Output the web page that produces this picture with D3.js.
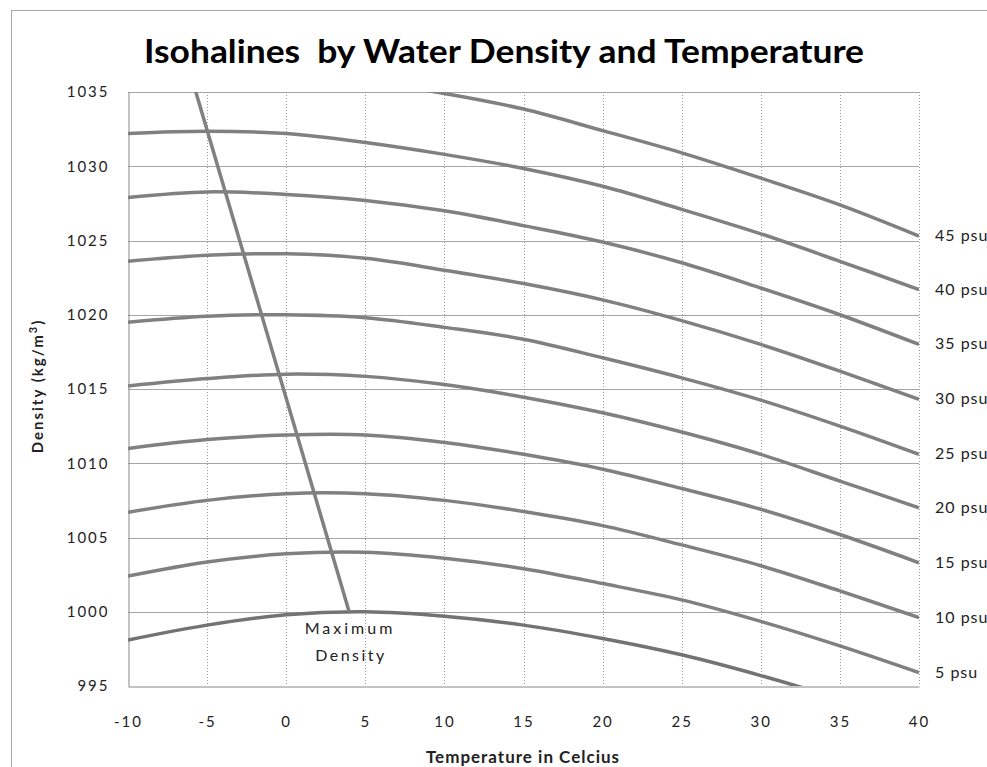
<!DOCTYPE html>
<html>
<head>
<meta charset="utf-8">
<script src="https://cdnjs.cloudflare.com/ajax/libs/d3/7.8.5/d3.min.js"></script>
<style>
  body { margin: 0; background: #fff; }
  text { font-family: Lato, "Open Sans", sans-serif; }
</style>
</head>
<body>
<div id="chart"></div>
<script>
// temperatures (deg C) at which each isohaline was read
var temps = [-10, -5, 0, 5, 10, 15, 20, 25, 30, 35, 40];
var xTicks = [-10, -5, 0, 5, 10, 15, 20, 25, 30, 35, 40];
var yTicks = [995, 1000, 1005, 1010, 1015, 1020, 1025, 1030, 1035];

// density (kg/m3) per salinity
var rho00 = [998.1, 999.1, 999.8, 1000.0, 999.7, 999.1, 998.2, 997.1, 995.7, 994.1, 992.2];
var rho05 = [1002.4, 1003.35, 1003.9, 1004.0, 1003.6, 1002.9, 1001.9, 1000.8, 999.35, 997.7, 995.9];
var rho10 = [1006.7, 1007.5, 1007.95, 1007.95, 1007.5, 1006.75, 1005.8, 1004.5, 1003.1, 1001.4, 999.6];
var rho15 = [1011.0, 1011.6, 1011.9, 1011.9, 1011.4, 1010.6, 1009.6, 1008.3, 1006.9, 1005.2, 1003.3];
var rho20 = [1015.2, 1015.7, 1016.0, 1015.85, 1015.3, 1014.45, 1013.4, 1012.1, 1010.6, 1008.8, 1007.0];
var rho25 = [1019.5, 1019.9, 1020.0, 1019.8, 1019.15, 1018.35, 1017.1, 1015.75, 1014.25, 1012.5, 1010.6];
var rho30 = [1023.6, 1024.0, 1024.1, 1023.8, 1023.0, 1022.1, 1021.0, 1019.6, 1018.0, 1016.2, 1014.3];
var rho35 = [1027.9, 1028.27, 1028.1, 1027.7, 1027.0, 1026.0, 1024.9, 1023.5, 1021.8, 1020.0, 1018.0];
var rho40 = [1032.2, 1032.35, 1032.2, 1031.6, 1030.8, 1029.85, 1028.65, 1027.1, 1025.45, 1023.6, 1021.7];
var rho45 = [1036.3, 1036.4, 1036.2, 1035.7, 1034.9, 1033.85, 1032.4, 1030.9, 1029.2, 1027.4, 1025.3];

var salinities = [0, 5, 10, 15, 20, 25, 30, 35, 40, 45];
var psuLabels = ["", "5 psu", "10 psu", "15 psu", "20 psu", "25 psu", "30 psu", "35 psu", "40 psu", "45 psu"];

// line of maximum density
var maxDensT = [3.98, -6.1];
var maxDensRho = [1000.0, 1036.4];

var series = [rho00, rho05, rho10, rho15, rho20, rho25, rho30, rho35, rho40, rho45];

var width = 987, height = 767;
var plotLeft = 128, plotRight = 919, plotTop = 92, plotBottom = 686;

var svg = d3.select('#chart').append('svg')
    .attr('width', width)
    .attr('height', height);

// outer chart frame
svg.append('rect')
    .attr('x', 11.5).attr('y', 10.5)
    .attr('width', 1000).attr('height', 800)
    .attr('fill', 'none')
    .attr('stroke', '#a6a6a6');

var x = d3.scaleLinear().domain([-10, 40]).range([plotLeft, plotRight]);
var y = d3.scaleLinear().domain([995, 1035]).range([plotBottom, plotTop]);

svg.append('text')
    .attr('x', 504).attr('y', 63)
    .attr('text-anchor', 'middle')
    .attr('textLength', 720)
    .attr('lengthAdjust', 'spacingAndGlyphs')
    .style('white-space', 'pre')
    .style('font-size', '32px')
    .style('font-weight', 'bold')
    .attr('fill', '#000')
    .text('Isohalines  by Water Density and Temperature');

// grid
svg.append('g').selectAll('line')
    .data(yTicks.slice(1))
    .enter().append('line')
    .attr('x1', plotLeft).attr('x2', plotRight)
    .attr('y1', function (d) { return Math.round(y(d)) + 0.5; })
    .attr('y2', function (d) { return Math.round(y(d)) + 0.5; })
    .attr('stroke', '#a6a6a6');

svg.append('g').selectAll('line')
    .data(xTicks.slice(1))
    .enter().append('line')
    .attr('x1', function (d) { return Math.round(x(d)) + 0.5; })
    .attr('x2', function (d) { return Math.round(x(d)) + 0.5; })
    .attr('y1', plotTop).attr('y2', plotBottom)
    .attr('stroke', '#9a9a9a')
    .attr('stroke-dasharray', '1,2');

// axes
var fmt = function (d) { return String(d); };
var xAxis = svg.append('g')
    .attr('transform', 'translate(0,' + (Math.round(y(995)) + 0.5) + ')')
    .call(d3.axisBottom(x).tickValues(xTicks).tickFormat(fmt).tickSize(0).tickPadding(30));
var yAxis = svg.append('g')
    .attr('transform', 'translate(' + (Math.round(x(-10)) + 0.5) + ',0)')
    .call(d3.axisLeft(y).tickValues(yTicks).tickFormat(fmt).tickSize(0).tickPadding(21));
[xAxis, yAxis].forEach(function (a) {
    a.select('.domain').attr('stroke', '#888');
    a.selectAll('text')
        .style('font-family', 'Lato, sans-serif')
        .style('font-size', '15px')
        .style('letter-spacing', '2px')
        .attr('fill', '#222');
});
yAxis.selectAll('text').attr('dx', 2);

svg.append('text')
    .attr('x', 523).attr('y', 763)
    .attr('text-anchor', 'middle')
    .style('font-size', '17px')
    .style('font-weight', 'bold')
    .style('letter-spacing', '1px')
    .attr('fill', '#222')
    .text('Temperature in Celcius');

var yt = svg.append('text')
    .attr('transform', 'translate(43,386) rotate(-90)')
    .attr('text-anchor', 'middle')
    .style('font-size', '15px')
    .style('font-weight', 'bold')
    .style('letter-spacing', '2px')
    .attr('fill', '#222');
yt.append('tspan').text('Density (kg/m');
yt.append('tspan').attr('dy', -6).style('font-size', '11px').text('3');
yt.append('tspan').attr('dy', 6).text(')');

// curves
svg.append('clipPath').attr('id', 'plot')
    .append('rect')
    .attr('x', plotLeft).attr('y', plotTop)
    .attr('width', plotRight - plotLeft).attr('height', plotBottom - plotTop);

var line = d3.line()
    .x(function (d) { return x(d[0]); })
    .y(function (d) { return y(d[1]); })
    .curve(d3.curveCatmullRom.alpha(0.5));

var curves = svg.append('g').attr('clip-path', 'url(#plot)');

curves.selectAll('path.iso')
    .data(series)
    .enter().append('path')
    .attr('class', 'iso')
    .attr('d', function (s) { return line(temps.map(function (t, i) { return [t, s[i]]; })); })
    .attr('fill', 'none')
    .attr('stroke', function (s, i) { return i === 0 ? '#737373' : '#808080'; })
    .attr('stroke-width', 3.5);

curves.append('path')
    .attr('d', d3.line()
        .x(function (d) { return x(d[0]); })
        .y(function (d) { return y(d[1]); })(maxDensT.map(function (t, i) { return [t, maxDensRho[i]]; })))
    .attr('fill', 'none')
    .attr('stroke', '#808080')
    .attr('stroke-width', 3.5);

// salinity labels at the right end
svg.append('g').selectAll('text')
    .data(salinities.slice(1))
    .enter().append('text')
    .attr('x', 935)
    .attr('y', function (d) { return y(series[salinities.indexOf(d)][temps.length - 1]) + 5; })
    .style('font-size', '16px')
    .style('letter-spacing', '1px')
    .attr('fill', '#222')
    .text(function (d) { return psuLabels[salinities.indexOf(d)]; });

svg.append('text')
    .attr('x', 350).attr('y', 634)
    .attr('text-anchor', 'middle')
    .style('font-size', '16px')
    .style('letter-spacing', '3px')
    .attr('fill', '#222')
    .text('Maximum');
svg.append('text')
    .attr('x', 351).attr('y', 661)
    .attr('text-anchor', 'middle')
    .style('font-size', '16px')
    .style('letter-spacing', '2.5px')
    .attr('fill', '#222')
    .text('Density');
</script>
</body>
</html>
